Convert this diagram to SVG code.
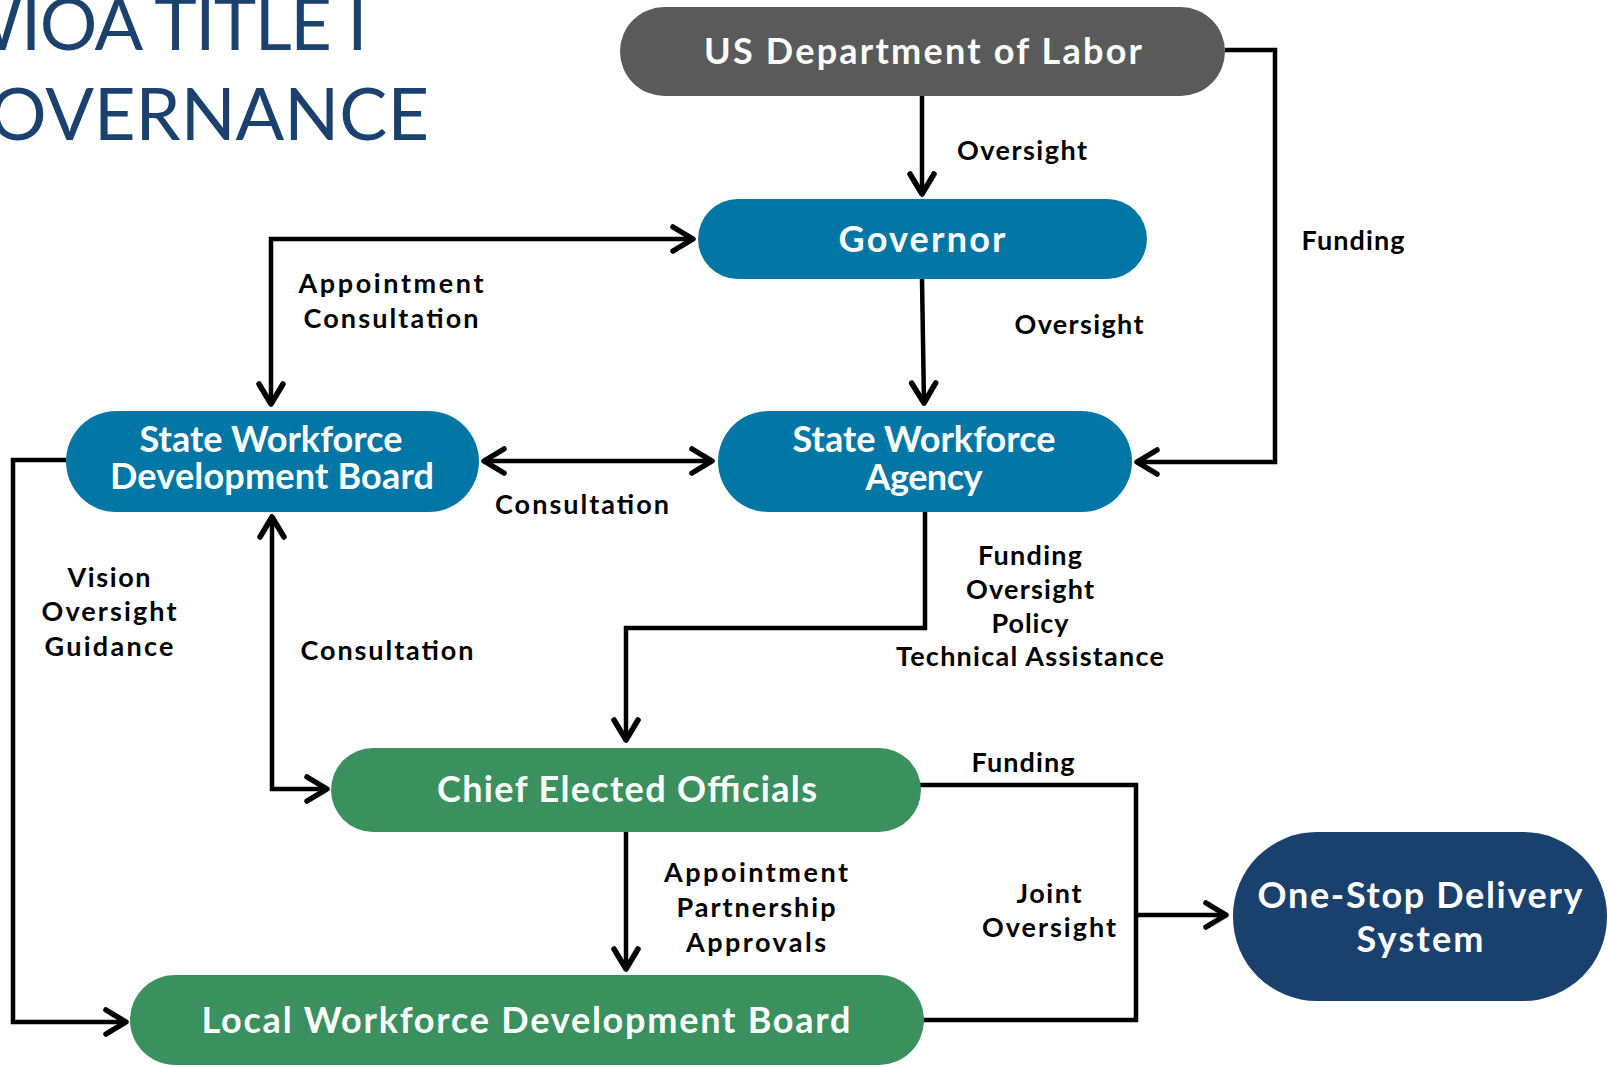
<svg xmlns="http://www.w3.org/2000/svg" width="1608" height="1067" viewBox="0 0 1608 1067">
<style>
.title{font-family:Lato,"Open Sans","Liberation Sans",sans-serif;font-weight:400;font-size:72px;fill:#1b416e}
.nt{font-family:Lato,"Open Sans","Liberation Sans",sans-serif;font-weight:700;font-size:36px;fill:#ffffff;text-anchor:middle}
.lb{font-family:Lato,"Open Sans","Liberation Sans",sans-serif;font-weight:700;font-size:27px;fill:#000000;text-anchor:middle}
.gray{fill:#5a5a5a}
.teal{fill:#0277a6}
.green{fill:#3a915e}
.navy{fill:#1a416d}
.cn{fill:none;stroke:#000;stroke-width:4.5;stroke-linejoin:miter}
</style>
<defs>
<marker id="ah" viewBox="-26 -16 30 32" refX="0" refY="0" markerWidth="30" markerHeight="32" markerUnits="userSpaceOnUse" orient="auto-start-reverse">
<path d="M-20,-12 L0,0 L-20,12" fill="none" stroke="#000" stroke-width="5.5" stroke-linecap="round" stroke-linejoin="round"/>
</marker>
</defs>
<rect width="1608" height="1067" fill="#ffffff"/>
<g id="title">
<text class="title" x="366" y="50" text-anchor="end" letter-spacing="-1.5">WIOA TITLE I</text>
<text class="title" x="429" y="140" text-anchor="end">GOVERNANCE</text>
</g>
<g id="connectors">
<path class="cn" d="M922,96 L922,194" marker-end="url(#ah)"/>
<path class="cn" d="M922,279 L924,403" marker-end="url(#ah)"/>
<path class="cn" d="M1225,50 L1275,50 L1275,462 L1137,462" marker-end="url(#ah)"/>
<path class="cn" d="M271,404 L271,239 L693,239" marker-start="url(#ah)" marker-end="url(#ah)"/>
<path class="cn" d="M484,461 L712,461" marker-start="url(#ah)" marker-end="url(#ah)"/>
<path class="cn" d="M66,460 L13,460 L13,1022 L126,1022" marker-end="url(#ah)"/>
<path class="cn" d="M272,517 L272,789 L327,789" marker-start="url(#ah)" marker-end="url(#ah)"/>
<path class="cn" d="M925,511 L925,628 L626,628 L626,740" marker-end="url(#ah)"/>
<path class="cn" d="M626,832 L626,969" marker-end="url(#ah)"/>
<path class="cn" d="M919,785 L1136,785 L1136,1020 L922,1020"/>
<path class="cn" d="M1136,915 L1226,915" marker-end="url(#ah)"/>
</g>
<g id="usdol">
<rect class="gray" x="620" y="7" width="605" height="89" rx="44.5"/>
<text class="nt" x="923" y="64" textLength="438">US Department of Labor</text>
</g>
<g id="governor">
<rect class="teal" x="698" y="199" width="449" height="80" rx="40"/>
<text class="nt" x="922" y="252" textLength="167">Governor</text>
</g>
<g id="swdb">
<rect class="teal" x="66" y="411" width="413" height="101" rx="50.5"/>
<text class="nt" x="271" y="452" textLength="263">State Workforce</text>
<text class="nt" x="272" y="489" textLength="324">Development Board</text>
</g>
<g id="swa">
<rect class="teal" x="718" y="411" width="414" height="101" rx="50.5"/>
<text class="nt" x="924" y="452" textLength="263">State Workforce</text>
<text class="nt" x="924" y="490" textLength="117">Agency</text>
</g>
<g id="ceo">
<rect class="green" x="331" y="748" width="590" height="84" rx="42"/>
<text class="nt" x="627" y="802" textLength="380">Chief Elected Officials</text>
</g>
<g id="lwdb">
<rect class="green" x="130" y="975" width="794" height="90" rx="45"/>
<text class="nt" x="526" y="1033" textLength="649">Local Workforce Development Board</text>
</g>
<g id="onestop">
<rect class="navy" x="1233" y="832" width="374" height="169" rx="84"/>
<text class="nt" x="1420" y="908" textLength="325">One-Stop Delivery</text>
<text class="nt" x="1420" y="952" textLength="127">System</text>
</g>
<g id="labels">
<text class="lb" x="1022" y="160" textLength="130">Oversight</text>
<text class="lb" x="1353" y="250" textLength="103">Funding</text>
<text class="lb" x="391" y="293" textLength="185">Appointment</text>
<text class="lb" x="391" y="328" textLength="175">Consultation</text>
<text class="lb" x="1079" y="334" textLength="129">Oversight</text>
<text class="lb" x="582" y="514" textLength="174">Consultation</text>
<text class="lb" x="109" y="587" textLength="83">Vision</text>
<text class="lb" x="109" y="621" textLength="135">Oversight</text>
<text class="lb" x="109" y="656" textLength="129">Guidance</text>
<text class="lb" x="387" y="660" textLength="173">Consultation</text>
<text class="lb" x="1030" y="565" textLength="104">Funding</text>
<text class="lb" x="1030" y="599" textLength="128">Oversight</text>
<text class="lb" x="1030" y="633" textLength="77">Policy</text>
<text class="lb" x="1030" y="666" textLength="268">Technical Assistance</text>
<text class="lb" x="1023" y="772" textLength="103">Funding</text>
<text class="lb" x="756" y="882" textLength="184">Appointment</text>
<text class="lb" x="756" y="917" textLength="159">Partnership</text>
<text class="lb" x="756" y="952" textLength="140">Approvals</text>
<text class="lb" x="1049" y="903" textLength="65">Joint</text>
<text class="lb" x="1049" y="937" textLength="134">Oversight</text>
</g>
</svg>
